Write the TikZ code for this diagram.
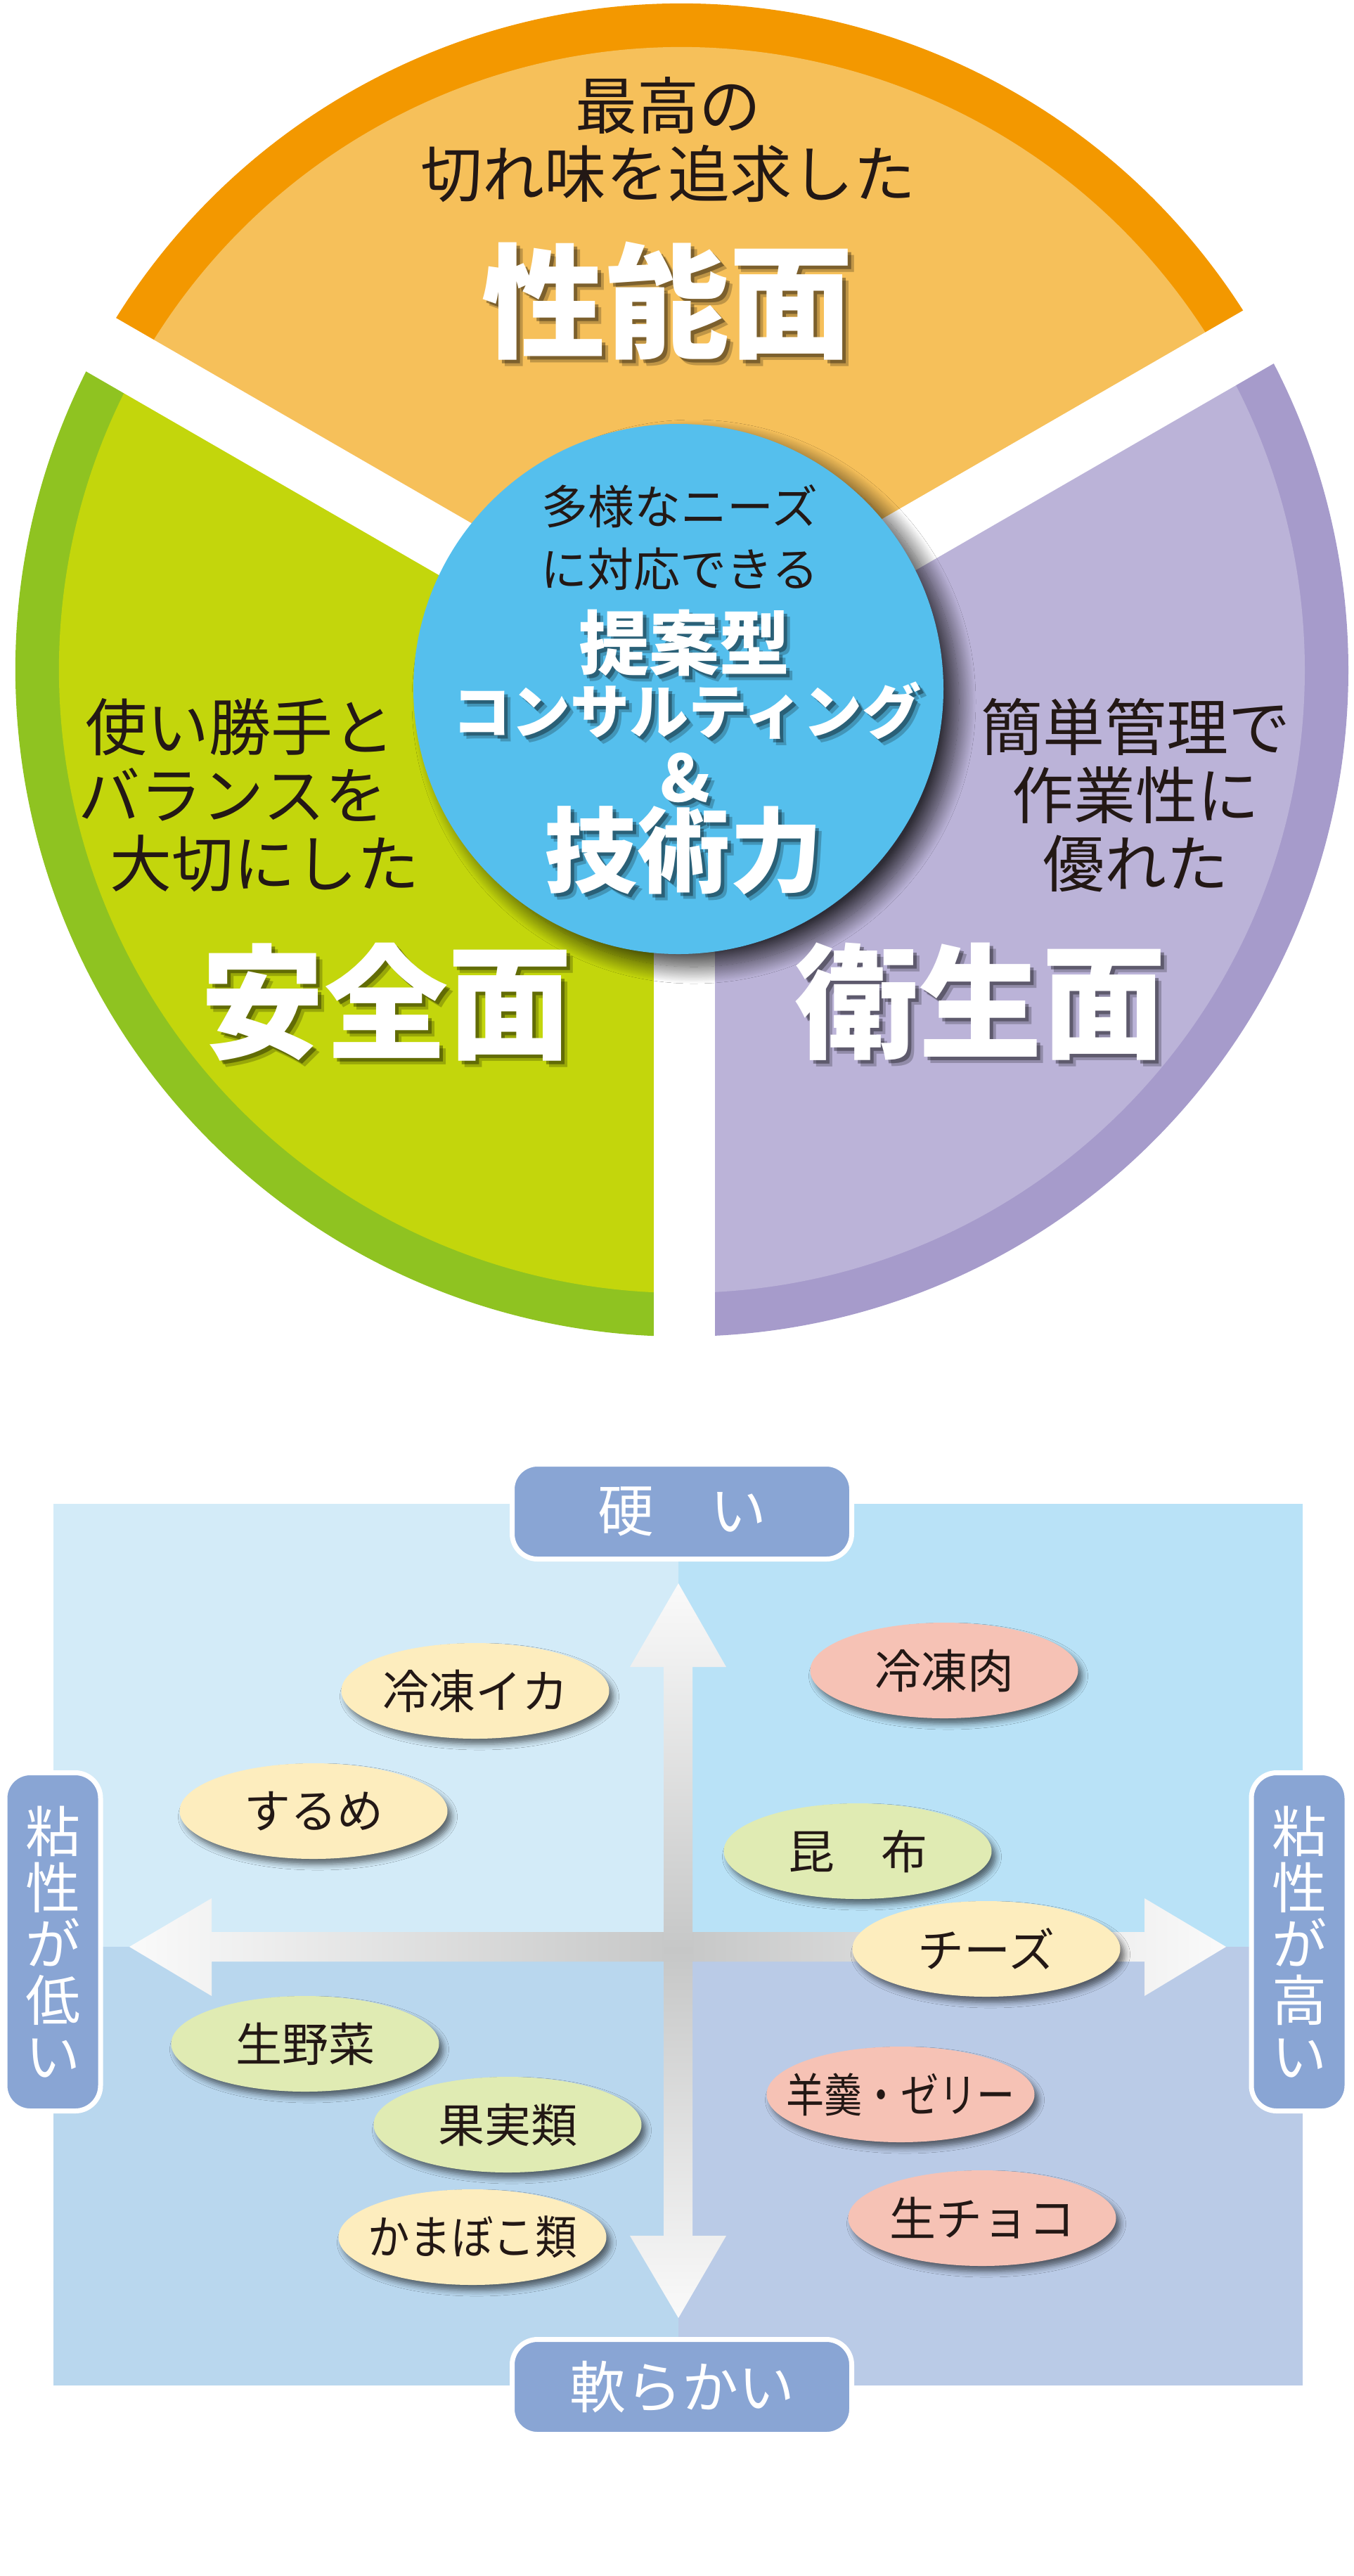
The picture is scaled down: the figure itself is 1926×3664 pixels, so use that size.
\documentclass[tikz,border=0pt]{standalone}
\usepackage{fontspec}
\setmainfont{Noto Sans CJK JP}
\usepackage{xcolor}
\usepackage{tikz}
\definecolor{perf-out}{HTML}{F39800}
\definecolor{perf-in}{HTML}{F6C05A}
\definecolor{safe-out}{HTML}{8FC321}
\definecolor{safe-in}{HTML}{C3D60C}
\definecolor{hyg-out}{HTML}{A69BCB}
\definecolor{hyg-in}{HTML}{BBB3D8}
\definecolor{core-blue}{HTML}{55BFED}
\definecolor{ink}{HTML}{231815}
\definecolor{quad-tl}{HTML}{D3EBF8}
\definecolor{quad-tr}{HTML}{B9E2F7}
\definecolor{quad-bl}{HTML}{B9D7EE}
\definecolor{quad-br}{HTML}{BACBE7}
\definecolor{axis-box}{HTML}{89A5D4}
\definecolor{arrow-end}{HTML}{FAFAFA}
\definecolor{arrow-mid}{HTML}{C6C7C7}
\definecolor{food-y}{HTML}{FDEDBE}
\definecolor{food-p}{HTML}{F6C2B5}
\definecolor{food-g}{HTML}{E0EBB3}
\usetikzlibrary{shapes.geometric,shadows.blur,calc}
\newcommand{\midfont}{\fontsize{44pt}{48.5pt}\selectfont}
\newcommand{\titlefont}{\bfseries\fontsize{88pt}{90pt}\selectfont}
\newcommand{\corefont}{\fontsize{33pt}{44.5pt}\selectfont}
\newcommand{\foodfont}{\fontsize{33pt}{36pt}\selectfont}
\newcommand{\axisfont}{\fontsize{40pt}{40pt}\selectfont}
% white text with a soft dark cast
\newcommand{\castnode}[4]{%
  \foreach \d/\o in {9/.22,5/.35}
    \node[#1,text=black,opacity=\o] (#2-\d) at ($(#3)+(\d,-\d)$) {#4};
  \node[#1] (#2) at (#3) {#4};}
% squeezed label that leaves the ellipse size alone
\newcommand{\squeeze}[2]{\makebox[0pt]{\scalebox{#1}[1]{#2}}}

\begin{document}
\begin{tikzpicture}[x=0.5pt,y=0.5pt,
  gap/.style={white,line width=43.5pt},
  blackline/.style={text=ink,font=\midfont,align=center,inner sep=0pt},
  title/.style={text=white,font=\titlefont,inner sep=0pt},
  coretxt/.style={text=ink,font=\corefont,align=center,inner sep=0pt},
  corebold/.style={text=white,inner sep=0pt},
  axisbox/.style={fill=axis-box,draw=white,line width=3.5pt,rounded corners=18pt,
    text=white,font=\axisfont,inner sep=0pt},
  food/.style={ellipse,minimum width=190.5pt,minimum height=68pt,inner sep=0pt,
    text=ink,font=\foodfont,
    blur shadow={shadow xshift=3pt,shadow yshift=-4pt,shadow blur radius=4pt,shadow opacity=55}}]
\useasboundingbox (0,0) rectangle (1926,-3664);

% pie
\coordinate (pc) at (970,-953);
\fill[perf-out] (pc) -- +(30:948) arc[start angle=30,end angle=150,radius=948] -- cycle;
\fill[perf-in]  (pc) -- +(30:886) arc[start angle=30,end angle=150,radius=886] -- cycle;
\fill[safe-out] (pc) -- +(150:948) arc[start angle=150,end angle=270,radius=948] -- cycle;
\fill[safe-in]  (pc) -- +(150:886) arc[start angle=150,end angle=270,radius=886] -- cycle;
\fill[hyg-out]  (pc) -- +(270:948) arc[start angle=270,end angle=390,radius=948] -- cycle;
\fill[hyg-in]   (pc) -- +(270:886) arc[start angle=270,end angle=390,radius=886] -- cycle;
\coordinate (gl) at (973,-969);
\coordinate (gr) at (973,-951);
\coordinate (gb) at (973,-960);
\draw[gap] (gl) -- +(150:1000);
\draw[gap] (gr) -- +(30:1000);
\draw[gap] (gb) -- +(270:1000);

\node[circle,fill=core-blue,minimum size=377pt,inner sep=0pt,
  blur shadow={shadow xshift=11pt,shadow yshift=-9pt,shadow blur radius=12pt,
    shadow blur steps=30,shadow opacity=75}]
  (core) at (965,-980) {};

\node[blackline] (perf-txt) at (950,-199) {最高の\\切れ味を追求した};
\coordinate (perf-at) at (949,-428);
\castnode{title}{perf}{perf-at}{性能面}
\node[blackline] (safe-l1) at (341,-1034) {使い勝手と};
\node[blackline] (safe-l2) at (331,-1130) {バランスを};
\node[blackline] (safe-l3) at (376,-1228) {大切にした};
\coordinate (safe-at) at (549,-1425);
\castnode{title}{safe}{safe-at}{安全面}
\node[blackline] (hyg-txt) at (1615,-1131) {簡単管理で\\作業性に\\優れた};
\coordinate (hyg-at) at (1394,-1425);
\castnode{title}{hyg}{hyg-at}{衛生面}

\node[coretxt] (core-txt) at (967,-765) {多様なニーズ\\に対応できる};
\coordinate (plan-at) at (973,-914);
\castnode{corebold,font=\bfseries\fontsize{50pt}{50pt}\selectfont}{plan}{plan-at}{提案型}
\coordinate (consult-at) at (977,-1011);
\castnode{corebold,font=\bfseries\fontsize{42pt}{42pt}\selectfont}{consult}{consult-at}{コンサルティング}
\coordinate (amp-at) at (975,-1106);
\castnode{corebold,font=\bfseries\fontsize{46pt}{46pt}\selectfont}{amp}{amp-at}{\&}
\coordinate (tech-at) at (972,-1210);
\castnode{corebold,font=\bfseries\fontsize{66pt}{66pt}\selectfont}{tech}{tech-at}{技術力}

% map
\fill[quad-tl] (76,-2139) rectangle (965,-2769);
\fill[quad-tr] (965,-2139) rectangle (1853,-2769);
\fill[quad-bl] (76,-2769) rectangle (965,-3393);
\fill[quad-br] (965,-2769) rectangle (1853,-3393);

\shade[left color=arrow-end,right color=arrow-end,middle color=arrow-mid]
  (184,-2769) -- (301,-2700) -- (301,-2748) -- (1628,-2748) -- (1628,-2700)
  -- (1744,-2769) -- (1628,-2839) -- (1628,-2790) -- (301,-2790) -- (301,-2839) -- cycle;
\shade[top color=arrow-end,bottom color=arrow-end,middle color=arrow-mid]
  (965,-2252) -- (1033,-2371) -- (985,-2371) -- (985,-3180) -- (1033,-3180)
  -- (965,-3297) -- (896,-3180) -- (944,-3180) -- (944,-2371) -- (896,-2371) -- cycle;

\node[axisbox,minimum width=241.5pt,minimum height=67.5pt] (hard) at (970,-2150) {硬　い};
\node[axisbox,minimum width=241.5pt,minimum height=67.5pt] (soft) at (970,-3395) {軟らかい};
\node[axisbox,minimum width=68pt,minimum height=240.5pt,align=center,
  font=\fontsize{39pt}{40pt}\selectfont] (lowvis) at (75,-2762) {粘\\性\\が\\低\\い};
\node[axisbox,minimum width=68pt,minimum height=240.5pt,align=center,
  font=\fontsize{39pt}{40pt}\selectfont] (highvis) at (1848,-2762) {粘\\性\\が\\高\\い};

\node[food,fill=food-y] (squid) at (676,-2405) {冷凍イカ};
\node[food,fill=food-y] (surume) at (446,-2576) {するめ};
\node[food,fill=food-p] (meat) at (1343,-2376) {冷凍肉};
\node[food,fill=food-g] (kelp) at (1220,-2633) {昆　布};
\node[food,fill=food-y] (cheese) at (1403,-2772) {チーズ};
\node[food,fill=food-g] (veg) at (434,-2907) {生野菜};
\node[food,fill=food-g] (fruit) at (722,-3022) {果実類};
\node[food,fill=food-y] (kamaboko) at (672,-3182) {\squeeze{0.9}{かまぼこ類}};
\node[food,fill=food-p] (jelly) at (1281,-2979) {\squeeze{0.82}{羊羹・ゼリー}};
\node[food,fill=food-p] (choco) at (1397,-3155) {生チョコ};
\end{tikzpicture}
\end{document}
